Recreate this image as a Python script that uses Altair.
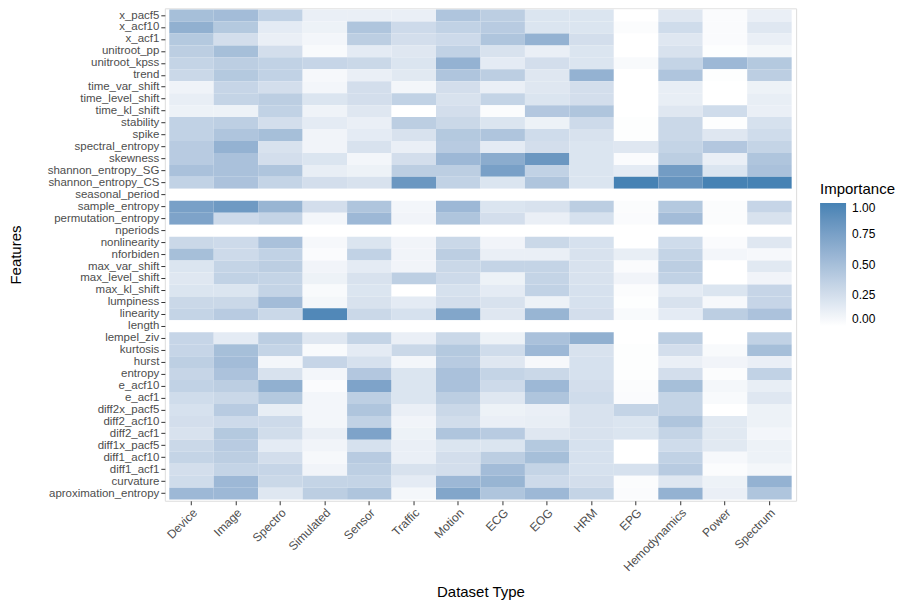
import altair as alt
import pandas as pd

DATASETS = ["Device", "Image", "Spectro", "Simulated", "Sensor", "Traffic", "Motion",
            "ECG", "EOG", "HRM", "EPG", "Hemodynamics", "Power", "Spectrum"]

FEATURES = ["x_pacf5", "x_acf10", "x_acf1", "unitroot_pp", "unitroot_kpss", "trend",
            "time_var_shift", "time_level_shift", "time_kl_shift", "stability", "spike",
            "spectral_entropy", "skewness", "shannon_entropy_SG", "shannon_entropy_CS",
            "seasonal_period", "sample_entropy", "permutation_entropy", "nperiods",
            "nonlinearity", "nforbiden", "max_var_shift", "max_level_shift", "max_kl_shift",
            "lumpiness", "linearity", "length", "lempel_ziv", "kurtosis", "hurst", "entropy",
            "e_acf10", "e_acf1", "diff2x_pacf5", "diff2_acf10", "diff2_acf1", "diff1x_pacf5",
            "diff1_acf10", "diff1_acf1", "curvature", "aproximation_entropy"]

# importance per feature, in DATASETS order
x_pacf5 = [0.50, 0.52, 0.35, 0.12, 0.12, 0.12, 0.45, 0.38, 0.20, 0.20, 0.00, 0.18, 0.03, 0.12]
x_acf10 = [0.62, 0.42, 0.15, 0.10, 0.45, 0.28, 0.35, 0.40, 0.20, 0.20, 0.02, 0.27, 0.03, 0.18]
x_acf1 = [0.42, 0.25, 0.12, 0.07, 0.38, 0.25, 0.28, 0.45, 0.60, 0.25, 0.00, 0.18, 0.03, 0.12]
unitroot_pp = [0.38, 0.50, 0.25, 0.04, 0.15, 0.18, 0.35, 0.22, 0.12, 0.20, 0.00, 0.22, 0.01, 0.06]
unitroot_kpss = [0.33, 0.38, 0.35, 0.32, 0.30, 0.20, 0.60, 0.15, 0.25, 0.20, 0.04, 0.33, 0.55, 0.42]
trend = [0.30, 0.42, 0.35, 0.05, 0.12, 0.17, 0.45, 0.38, 0.18, 0.60, 0.00, 0.45, 0.01, 0.38]
time_var_shift = [0.09, 0.32, 0.25, 0.07, 0.25, 0.07, 0.25, 0.12, 0.18, 0.25, 0.00, 0.13, 0.00, 0.10]
time_level_shift = [0.13, 0.33, 0.38, 0.20, 0.25, 0.35, 0.22, 0.33, 0.20, 0.25, 0.00, 0.13, 0.00, 0.13]
time_kl_shift = [0.10, 0.10, 0.35, 0.09, 0.18, 0.00, 0.25, 0.02, 0.43, 0.45, 0.00, 0.18, 0.27, 0.12]
stability = [0.35, 0.37, 0.25, 0.15, 0.12, 0.38, 0.30, 0.20, 0.10, 0.28, 0.01, 0.30, 0.01, 0.23]
spike = [0.35, 0.45, 0.50, 0.08, 0.15, 0.22, 0.42, 0.45, 0.27, 0.22, 0.01, 0.30, 0.18, 0.27]
spectral_entropy = [0.40, 0.60, 0.22, 0.08, 0.22, 0.12, 0.40, 0.15, 0.25, 0.20, 0.18, 0.33, 0.43, 0.33]
skewness = [0.40, 0.48, 0.25, 0.20, 0.07, 0.25, 0.55, 0.65, 0.82, 0.20, 0.03, 0.38, 0.12, 0.45]
shannon_entropy_SG = [0.48, 0.48, 0.45, 0.13, 0.10, 0.38, 0.38, 0.75, 0.35, 0.20, 0.15, 0.78, 0.20, 0.48]
shannon_entropy_CS = [0.35, 0.47, 0.33, 0.25, 0.22, 0.82, 0.35, 0.20, 0.45, 0.20, 1.00, 0.85, 1.00, 1.00]
seasonal_period = [0.0] * 14
sample_entropy = [0.75, 0.80, 0.58, 0.25, 0.45, 0.07, 0.55, 0.20, 0.22, 0.38, 0.02, 0.42, 0.02, 0.32]
permutation_entropy = [0.72, 0.28, 0.33, 0.07, 0.55, 0.08, 0.45, 0.25, 0.12, 0.23, 0.03, 0.52, 0.02, 0.22]
nperiods = [0.0] * 14
nonlinearity = [0.30, 0.28, 0.48, 0.05, 0.20, 0.08, 0.30, 0.08, 0.30, 0.23, 0.00, 0.27, 0.03, 0.18]
nforbiden = [0.50, 0.28, 0.35, 0.03, 0.35, 0.08, 0.38, 0.12, 0.12, 0.22, 0.13, 0.33, 0.07, 0.05]
max_var_shift = [0.20, 0.33, 0.38, 0.08, 0.15, 0.08, 0.30, 0.33, 0.33, 0.22, 0.03, 0.38, 0.00, 0.17]
max_level_shift = [0.18, 0.35, 0.33, 0.10, 0.22, 0.37, 0.28, 0.10, 0.33, 0.22, 0.08, 0.35, 0.00, 0.08]
max_kl_shift = [0.20, 0.20, 0.33, 0.04, 0.20, 0.00, 0.23, 0.15, 0.35, 0.23, 0.02, 0.15, 0.20, 0.32]
lumpiness = [0.30, 0.30, 0.52, 0.06, 0.22, 0.15, 0.25, 0.22, 0.10, 0.23, 0.01, 0.22, 0.05, 0.32]
linearity = [0.33, 0.40, 0.30, 0.95, 0.30, 0.23, 0.70, 0.18, 0.58, 0.25, 0.04, 0.15, 0.38, 0.47]
length = [0.0] * 14
lempel_ziv = [0.32, 0.15, 0.38, 0.18, 0.33, 0.12, 0.30, 0.10, 0.48, 0.62, 0.00, 0.38, 0.00, 0.35]
kurtosis = [0.32, 0.50, 0.33, 0.04, 0.15, 0.30, 0.42, 0.27, 0.55, 0.22, 0.01, 0.25, 0.04, 0.50]
hurst = [0.37, 0.52, 0.07, 0.32, 0.23, 0.07, 0.40, 0.18, 0.05, 0.23, 0.01, 0.12, 0.08, 0.12]
entropy = [0.32, 0.47, 0.22, 0.07, 0.43, 0.20, 0.48, 0.33, 0.30, 0.23, 0.01, 0.25, 0.02, 0.35]
e_acf10 = [0.35, 0.38, 0.62, 0.03, 0.72, 0.20, 0.48, 0.28, 0.55, 0.25, 0.02, 0.50, 0.06, 0.13]
e_acf1 = [0.27, 0.30, 0.42, 0.07, 0.37, 0.20, 0.38, 0.18, 0.45, 0.27, 0.03, 0.33, 0.04, 0.18]
diff2x_pacf5 = [0.23, 0.40, 0.13, 0.07, 0.45, 0.12, 0.30, 0.10, 0.12, 0.22, 0.33, 0.33, 0.00, 0.10]
diff2_acf10 = [0.25, 0.28, 0.28, 0.07, 0.35, 0.08, 0.26, 0.12, 0.13, 0.22, 0.20, 0.45, 0.17, 0.10]
diff2_acf1 = [0.22, 0.42, 0.26, 0.12, 0.72, 0.10, 0.45, 0.40, 0.18, 0.22, 0.20, 0.33, 0.17, 0.07]
diff1x_pacf5 = [0.30, 0.40, 0.15, 0.08, 0.23, 0.12, 0.20, 0.20, 0.42, 0.23, 0.00, 0.27, 0.17, 0.10]
diff1_acf10 = [0.33, 0.38, 0.25, 0.05, 0.40, 0.12, 0.25, 0.38, 0.50, 0.23, 0.00, 0.35, 0.05, 0.10]
diff1_acf1 = [0.25, 0.33, 0.32, 0.08, 0.37, 0.22, 0.25, 0.52, 0.33, 0.23, 0.23, 0.40, 0.02, 0.06]
curvature = [0.27, 0.55, 0.30, 0.33, 0.33, 0.15, 0.55, 0.58, 0.28, 0.25, 0.02, 0.18, 0.10, 0.60]
aproximation_entropy = [0.55, 0.55, 0.18, 0.38, 0.45, 0.06, 0.70, 0.45, 0.55, 0.33, 0.03, 0.60, 0.12, 0.45]

ROWS = [x_pacf5, x_acf10, x_acf1, unitroot_pp, unitroot_kpss, trend, time_var_shift,
        time_level_shift, time_kl_shift, stability, spike, spectral_entropy, skewness,
        shannon_entropy_SG, shannon_entropy_CS, seasonal_period, sample_entropy,
        permutation_entropy, nperiods, nonlinearity, nforbiden, max_var_shift,
        max_level_shift, max_kl_shift, lumpiness, linearity, length, lempel_ziv, kurtosis,
        hurst, entropy, e_acf10, e_acf1, diff2x_pacf5, diff2_acf10, diff2_acf1,
        diff1x_pacf5, diff1_acf10, diff1_acf1, curvature, aproximation_entropy]

records = []
for feat, vals in zip(FEATURES, ROWS):
    for ds, v in zip(DATASETS, vals):
        records.append({"Feature": feat, "Dataset": ds, "Importance": v})
df = pd.DataFrame(records)

FONT = "Liberation Sans"

chart = alt.Chart(df).mark_rect().encode(
    x=alt.X("Dataset:N", sort=DATASETS, title="Dataset Type",
            scale=alt.Scale(paddingInner=0, paddingOuter=0.1),
            axis=alt.Axis(labelAngle=-45, labelAlign="right", labelBaseline="top",
                          labelFontSize=12, labelColor="#4D4D4D", labelPadding=2,
                          tickColor="#333333", tickSize=4, domain=False, grid=False,
                          titleFontSize=15, titleFontWeight="normal", titleColor="black",
                          titlePadding=12)),
    y=alt.Y("Feature:N", sort=FEATURES, title="Features",
            scale=alt.Scale(paddingInner=0, paddingOuter=0.1),
            axis=alt.Axis(labelFontSize=11.5, labelColor="#4D4D4D", labelPadding=2,
                          tickColor="#333333", tickSize=4, domain=False, grid=False,
                          titleFontSize=15, titleFontWeight="normal", titleColor="black",
                          titlePadding=24)),
    color=alt.Color("Importance:Q",
                    scale=alt.Scale(domain=[0, 1], range=["#FFFFFF", "#4682B4"],
                                    interpolate="lab"),
                    legend=alt.Legend(orient="none", legendX=656, legendY=174,
                                      gradientLength=123, gradientThickness=26,
                                      format=".2f", values=[0, 0.25, 0.5, 0.75, 1.0],
                                      labelFontSize=12, labelColor="black",
                                      labelOffset=6, titleFontSize=15,
                                      titleFontWeight="normal", titleColor="black",
                                      titlePadding=6, gradientStrokeWidth=0)),
).properties(
    width=632, height=493,
    padding={"left": 0, "top": 0, "right": 0, "bottom": 0}
).configure_view(
    fill="#EBEBEB", stroke="transparent"
).configure(
    font=FONT
)

chart.save("out.html", embed_options={"renderer": "svg", "actions": False})
